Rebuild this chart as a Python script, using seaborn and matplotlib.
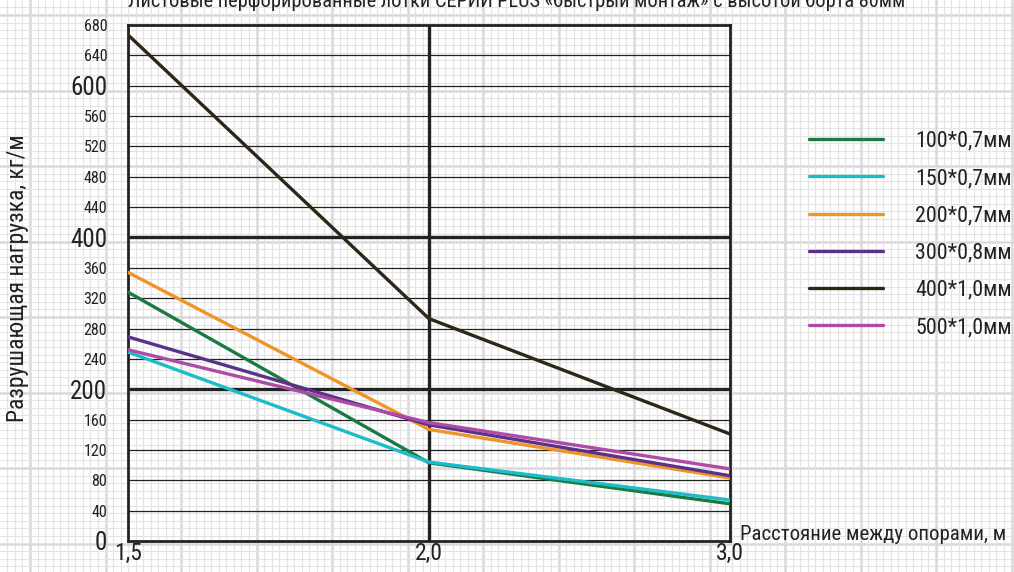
import numpy as np
import pandas as pd
import matplotlib
matplotlib.use("Agg")
import matplotlib.pyplot as plt
from matplotlib import font_manager
import seaborn as sns

# ---- data ----
spans = ["1,5", "2,0", "3,0"]
s100 = [328, 103, 49]
s150 = [249, 104, 54]
s200 = [354, 147, 83]
s300 = [269, 153, 86]
s400 = [667, 293, 141]
s500 = [252, 156, 95]
series_names = ["100*0,7мм", "150*0,7мм", "200*0,7мм", "300*0,8мм", "400*1,0мм", "500*1,0мм"]
series_vals = [s100, s150, s200, s300, s400, s500]
colors = ["#1a7a42", "#1cbccb", "#ef9426", "#5c3189", "#2e2616", "#ad4ba6"]
y_ticks = list(range(0, 681, 40))
big_ticks = [0, 200, 400, 600]
title = "Листовые перфорированные лотки СЕРИИ PLUS «быстрый монтаж» с высотой борта 80мм"
xlabel = "Расстояние между опорами, м"
ylabel = "Разрушающая нагрузка, кг/м"

rows = []
for name, vals in zip(series_names, series_vals):
    for sp, v in zip(spans, vals):
        rows.append({"span": sp, "load": v, "series": name})
df = pd.DataFrame(rows)

sns.set_theme(style="white")
avail = {f.name for f in font_manager.fontManager.ttflist}
fam = "DejaVu Sans"
for cand in ["Liberation Sans Narrow", "Roboto Condensed", "Open Sans Condensed", "Noto Sans"]:
    if cand in avail:
        fam = cand
        break
plt.rcParams["font.family"] = [fam, "DejaVu Sans"]

W, H = 1014, 572
fig = plt.figure(figsize=(W / 100, H / 100), dpi=100)
fig.patch.set_facecolor("white")

# graph-paper background
bg = fig.add_axes([0, 0, 1, 1], zorder=-5)
bg.set_xlim(0, W)
bg.set_ylim(H, 0)
bg.axis("off")
step = 7.55
for k in range(-20, 160):
    xv = 30 + k * step
    if 0 <= xv <= W:
        major = (k % 10 == 0)
        bg.axvline(xv, color="#d9d9dd" if major else "#e4e4e4", lw=1.8 if major else 0.8)
    yv = 15 + k * step
    if 0 <= yv <= H:
        major = (k % 10 == 0)
        bg.axhline(yv, color="#d9d9dd" if major else "#e4e4e4", lw=1.8 if major else 0.8)

left, right, top, bottom = 128, 730, 25, 541
ax = fig.add_axes([left / W, (H - bottom) / H, (right - left) / W, (bottom - top) / H])
ax.patch.set_alpha(0)

# grid lines
for t in y_ticks[1:-1]:
    thick = t in (200, 400)
    ax.axhline(t, color="#222222", lw=2.4 if thick else 0.9, zorder=1)
ax.axvline(1, color="#222222", lw=2.4, zorder=1)

sns.lineplot(data=df, x="span", y="load", hue="series", palette=dict(zip(series_names, colors)),
             sort=False, lw=2.4, ax=ax, legend=True, zorder=3)

ax.set_xlim(0, 2)
ax.set_ylim(0, 680)
for s in ax.spines.values():
    s.set_visible(True)
    s.set_color("#222222")
    s.set_linewidth(2)

ax.set_yticks(y_ticks)
ax.set_yticklabels([str(t) for t in y_ticks])
for lab, t in zip(ax.get_yticklabels(), y_ticks):
    lab.set_fontsize(18 if t in big_ticks else 11.5)
    lab.set_color("#222222")
ax.tick_params(axis="y", length=0, pad=15)
ax.set_xticks([0, 1, 2])
ax.set_xticklabels(spans, fontsize=17, color="#222222")
ax.tick_params(axis="x", length=0, pad=1)
ax.set_xlabel("")
ax.set_ylabel("")

fig.text(18 / W, 1 - 278 / H, ylabel, rotation=90, ha="center", va="center", fontsize=17, color="#222222")
fig.text(740 / W, 1 - 535 / H, xlabel, ha="left", va="center", fontsize=15, color="#222222")
fig.text(128 / W, 1 - 7 / H, title, ha="left", va="baseline", fontsize=14.7, color="#222222")

handles, labels = ax.get_legend_handles_labels()
leg = ax.legend(handles, labels, loc="upper left", bbox_to_anchor=(800 / W, 1 - 122 / H),
                bbox_transform=fig.transFigure, frameon=False, fontsize=15.8,
                handlelength=3.4, handletextpad=1.45, labelspacing=0.74, borderaxespad=0)
for t in leg.get_texts():
    t.set_color("#222222")

fig.savefig("out.png", dpi=100)
